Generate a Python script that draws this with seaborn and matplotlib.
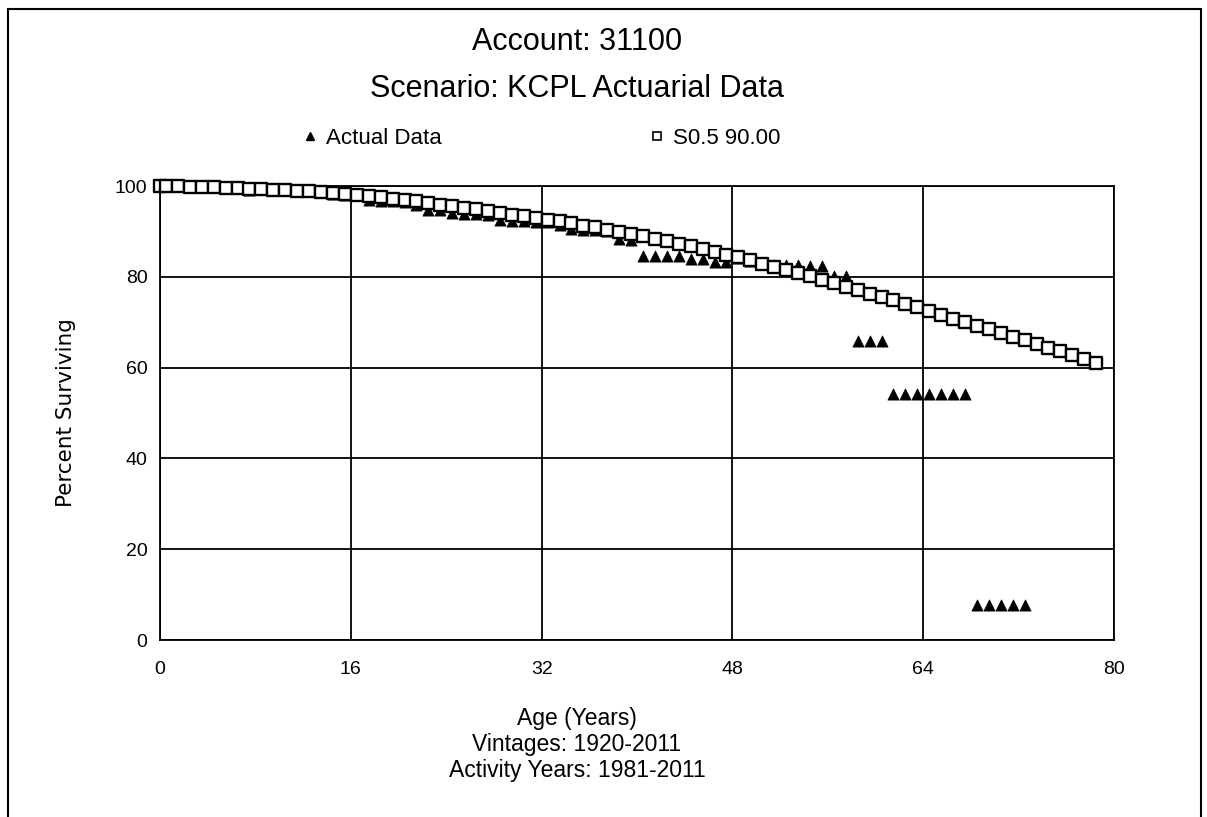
import matplotlib
matplotlib.use("Agg")
import matplotlib.pyplot as plt
import seaborn as sns
from matplotlib.lines import Line2D
from matplotlib.patches import Rectangle

# ---- datos ----
AGES = [0, 0.5, 1.5, 2.5, 3.5, 4.5, 5.5, 6.5, 7.5, 8.5, 9.5,
        10.5, 11.5, 12.5, 13.5, 14.5, 15.5, 16.5, 17.5, 18.5, 19.5,
        20.5, 21.5, 22.5, 23.5, 24.5, 25.5, 26.5, 27.5, 28.5, 29.5,
        30.5, 31.5, 32.5, 33.5, 34.5, 35.5, 36.5, 37.5, 38.5, 39.5,
        40.5, 41.5, 42.5, 43.5, 44.5, 45.5, 46.5, 47.5, 48.5, 49.5,
        50.5, 51.5, 52.5, 53.5, 54.5, 55.5, 56.5, 57.5, 58.5, 59.5,
        60.5, 61.5, 62.5, 63.5, 64.5, 65.5, 66.5, 67.5, 68.5, 69.5,
        70.5, 71.5, 72.5, 73.5, 74.5, 75.5, 76.5, 77.5, 78.5]

ACTUAL = [100.0, 100.0, 100.0, 100.0, 99.9, 99.9, 99.8, 99.7, 99.2, 99.6, 99.5,
          99.3, 99.2, 98.9, 98.7, 98.2, 98.1, 98.0, 96.9, 96.8, 96.7,
          96.4, 95.9, 94.8, 94.7, 94.0, 93.8, 93.8, 93.7, 92.5, 92.4,
          92.3, 92.1, 92.0, 91.5, 90.6, 90.4, 90.4, 90.2, 88.3, 88.1,
          84.6, 84.6, 84.5, 84.5, 84.0, 84.0, 83.3, 83.2, 84.1, 83.4,
          82.8, 82.6, 82.5, 82.5, 82.4, 82.4, 80.2, 80.1, 65.8, 65.8,
          65.8, 54.3, 54.3, 54.3, 54.3, 54.3, 54.3, 54.3, 7.8, 7.8,
          7.8, 7.8, 7.8]

CURVE = [100.0, 99.9, 99.9, 99.8, 99.8, 99.7, 99.6, 99.5, 99.4, 99.3, 99.2,
         99.1, 98.9, 98.8, 98.6, 98.5, 98.3, 98.0, 97.8, 97.5, 97.2,
         96.9, 96.6, 96.3, 95.9, 95.6, 95.2, 94.9, 94.5, 94.1, 93.7,
         93.3, 93.0, 92.6, 92.2, 91.8, 91.3, 90.9, 90.4, 89.9, 89.4,
         88.9, 88.3, 87.8, 87.2, 86.7, 86.1, 85.5, 84.9, 84.3, 83.6,
         82.9, 82.2, 81.5, 80.8, 80.1, 79.3, 78.6, 77.8, 77.1, 76.3,
         75.5, 74.8, 74.1, 73.3, 72.4, 71.6, 70.8, 70.0, 69.2, 68.4,
         67.6, 66.8, 66.0, 65.2, 64.4, 63.6, 62.7, 61.9, 61.1]

XTICKS = [0, 16, 32, 48, 64, 80]
YTICKS = [0, 20, 40, 60, 80, 100]

sns.set_style("white")
plt.rcParams["font.family"] = ["Liberation Sans", "DejaVu Sans"]
plt.rcParams["text.color"] = "black"
plt.rcParams["axes.labelcolor"] = "black"

fig = plt.figure(figsize=(12.07, 8.17), dpi=100)
ax = fig.add_axes([0.1326, 0.2166, 0.7904, 0.5557])

# ---- series ----
sns.scatterplot(x=AGES[:len(ACTUAL)], y=ACTUAL, marker="^", color="black",
                edgecolor="black", linewidth=0.5, s=65, ax=ax,
                zorder=3, clip_on=False)
sns.scatterplot(x=AGES, y=CURVE, marker="s", color="white",
                edgecolor="black", linewidth=1.7, s=78, ax=ax,
                zorder=4, clip_on=False)

ax.set_xlim(0, 80)
ax.set_ylim(0, 100)
ax.set_xticks(XTICKS)
ax.set_yticks(YTICKS)
ax.tick_params(axis="both", direction="out", length=7, width=1.2,
               color="black", labelsize=14, labelcolor="black")
ax.tick_params(axis="x", pad=8)
ax.tick_params(axis="y", pad=2)
ax.grid(True, color="black", linewidth=1.3)
ax.set_axisbelow(True)
for sp in ax.spines.values():
    sp.set_color("black")
    sp.set_linewidth(1.3)

ax.set_xlabel("")
ax.set_ylabel("Percent Surviving", fontsize=15.5, family="DejaVu Sans",
              labelpad=28)

# ---- titulos y textos ----
cx = 0.478
fig.text(cx, 1 - 42 / 817, "Account: 31100", ha="center", va="center", fontsize=22)
fig.text(cx, 1 - 89 / 817, "Scenario: KCPL Actuarial Data", ha="center",
         va="center", fontsize=22)
fig.text(cx, 1 - 718 / 817, "Age (Years)", ha="center", va="center", fontsize=16.5)
fig.text(cx, 1 - 744 / 817, "Vintages: 1920-2011", ha="center", va="center", fontsize=16.5)
fig.text(cx, 1 - 770 / 817, "Activity Years: 1981-2011", ha="center",
         va="center", fontsize=16.5)

handles = [
    Line2D([], [], linestyle="none", marker="^", color="black", markersize=6),
    Line2D([], [], linestyle="none", marker="s", markerfacecolor="white",
           markeredgecolor="black", markeredgewidth=1.2, markersize=6),
]
fig.legend(handles, ["Actual Data", "S0.5 90.00"], ncol=2, frameon=False,
           loc="center", bbox_to_anchor=(0.4475, 1 - 138 / 817), fontsize=16,
           columnspacing=9.2, handletextpad=0.3, handlelength=0.9)

# marco exterior
fig.patches.append(Rectangle((8 / 1207, -0.05), (1201 - 8) / 1207, 1.05 - 9 / 817,
                             transform=fig.transFigure, fill=False,
                             edgecolor="black", linewidth=1.5))

fig.savefig("out.png", dpi=100)
